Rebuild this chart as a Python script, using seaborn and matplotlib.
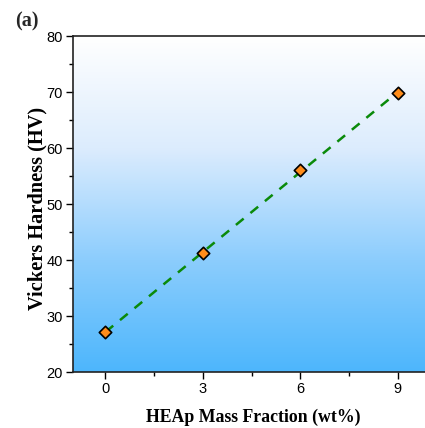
import numpy as np
import pandas as pd
import matplotlib
matplotlib.use("Agg")
import matplotlib.pyplot as plt
from matplotlib.colors import LinearSegmentedColormap
import seaborn as sns

mass_fraction = [0, 3, 6, 9]
hardness = [27.1, 41.3, 56.1, 69.8]
x_ticks = [0, 3, 6, 9]
y_ticks = [20, 30, 40, 50, 60, 70, 80]

sns.set_style("ticks")
plt.rcParams['font.family'] = ['Liberation Sans', 'DejaVu Sans']

df = pd.DataFrame({"x": mass_fraction, "y": hardness})

fig = plt.figure(figsize=(4.25, 4.28), dpi=100)
ax = fig.add_axes([73/425, 1-372/428, 360/425, 336/428])

# gradient background
cmap = LinearSegmentedColormap.from_list("bg", ["#ffffff", "#dcecfd", "#8ccdfd", "#4db6fc"])
grad = np.linspace(0, 1, 256).reshape(-1, 1)
ax.imshow(grad, aspect='auto', cmap=cmap, extent=[-1, 10.08, 20, 80], origin='upper', zorder=0)

# linear fit line
coef = np.polyfit(df["x"], df["y"], 1)
fit_x = np.array([0, 9])
fit_df = pd.DataFrame({"x": fit_x, "y": np.polyval(coef, fit_x)})
sns.lineplot(data=fit_df, x="x", y="y", ax=ax, color="#0a8a0a", linestyle=(0, (4, 3.5)), linewidth=1.8, zorder=2)

sns.scatterplot(data=df, x="x", y="y", ax=ax, marker="D", s=40, color="#ff8c1a",
                edgecolor="black", linewidth=1.2, zorder=3)

ax.set_xlim(-1, 10.08)
ax.set_ylim(20, 80)
ax.set_xticks(x_ticks)
ax.set_yticks(y_ticks)
ax.set_xticks([1.5, 4.5, 7.5], minor=True)
ax.set_yticks([25, 35, 45, 55, 65, 75], minor=True)
ax.tick_params(axis='both', which='major', direction='out', length=5, width=1, labelsize=10.5, pad=2.5,
               colors="black")
ax.tick_params(axis='both', which='minor', direction='out', length=3, width=1, colors="black")

for s in ["left", "bottom", "top"]:
    ax.spines[s].set_linewidth(1.2)
    ax.spines[s].set_color("#222222")
ax.spines["right"].set_visible(False)

ax.set_xlabel("HEAp Mass Fraction (wt%)", fontfamily="Liberation Serif", fontweight="bold", fontsize=12.8,
              labelpad=9, color="black")
ax.set_ylabel("Vickers Hardness (HV)", fontfamily="Liberation Serif", fontweight="bold", fontsize=14.7,
              color="black")
ax.yaxis.set_label_coords(-0.072, 0.488)

fig.text(15/425, 1-21/428, "(a)", fontfamily="Liberation Serif", fontweight="bold", fontsize=14.5, va="center", ha="left")

fig.savefig("out.png", dpi=100)
